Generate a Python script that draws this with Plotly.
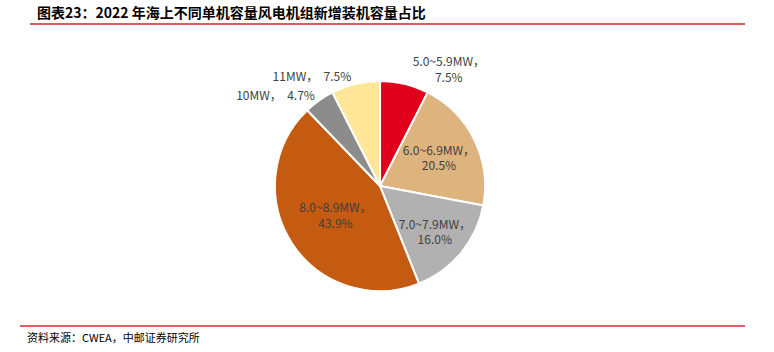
import plotly.graph_objects as go

labels = ["5.0~5.9MW", "6.0~6.9MW", "7.0~7.9MW", "8.0~8.9MW", "10MW", "11MW"]
values = [7.5, 20.5, 16.0, 43.9, 4.7, 7.5]
colors = ["#E0001B", "#DEB47E", "#B1B1B1", "#C55A11", "#8C8C8C", "#FFE699"]
positions = ["outside", "inside", "inside", "inside", "outside", "outside"]

texts = []
for i, (l, v) in enumerate(zip(labels, values)):
    if positions[i] == "inside" or i == 0:
        texts.append(f"{l}，<br>{v:.1f}%")
    else:
        texts.append(f"{l}，  {v:.1f}%")

fig = go.Figure(go.Pie(
    labels=labels, values=values, text=texts, textinfo="text",
    textposition=positions, sort=False, direction="clockwise", rotation=0,
    marker=dict(colors=colors, line=dict(color="white", width=2)),
    textfont=dict(family="Noto Sans CJK SC", size=12, color="#404040"),
    insidetextorientation="horizontal",
    domain=dict(x=[0.355, 0.627], y=[0.173, 0.770]),
    showlegend=False, hoverinfo="label+value",
))

fig.update_layout(
    width=774, height=352, margin=dict(l=0, r=0, t=0, b=0),
    paper_bgcolor="white", plot_bgcolor="white",
    uniformtext=dict(minsize=12, mode="show"),
    shapes=[
        dict(type="line", xref="paper", yref="paper", x0=30/774, x1=745/774,
             y0=1-24/352, y1=1-24/352, line=dict(color="#C0282D", width=1.5)),
        dict(type="line", xref="paper", yref="paper", x0=20/774, x1=745/774,
             y0=1-326/352, y1=1-326/352, line=dict(color="#E0262B", width=1.5)),
    ],
    annotations=[
        dict(text="<b>图表23：2022 年海上不同单机容量风电机组新增装机容量占比</b>",
             xref="paper", yref="paper", x=35/774, y=1-12/352, xanchor="left", yanchor="middle",
             showarrow=False, font=dict(family="Noto Sans CJK SC", size=14, color="#000000")),
        dict(text="资料来源：CWEA，中邮证券研究所",
             xref="paper", yref="paper", x=25/774, y=1-337/352, xanchor="left", yanchor="middle",
             showarrow=False, font=dict(family="Noto Sans CJK SC", size=11, color="#000000")),
    ],
)

fig.write_html("out.html")
